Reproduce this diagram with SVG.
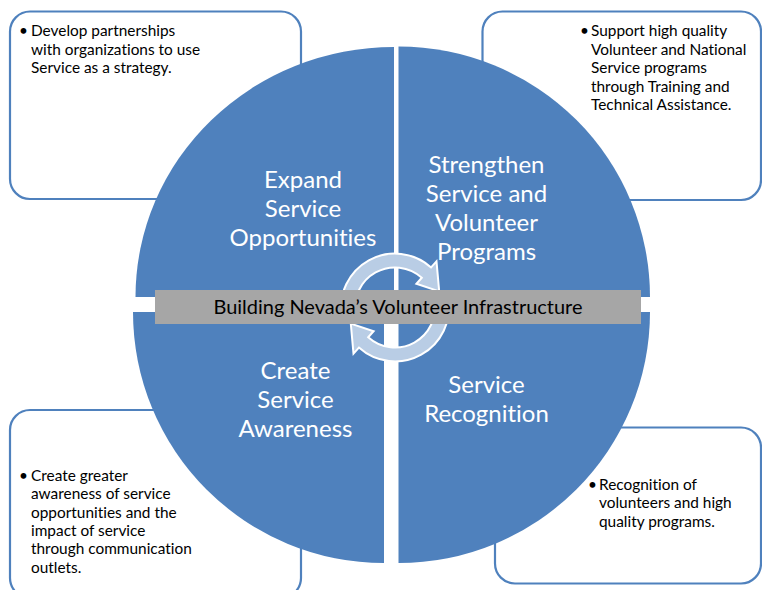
<svg xmlns="http://www.w3.org/2000/svg" width="762" height="590" viewBox="0 0 762 590">
<style>
.box{fill:#fff;stroke:#4F81BD;stroke-width:2.2}
.quad{fill:#4F81BD}
.arr{fill:#B9CDE5;stroke:#fff;stroke-width:2}
.lbl{font-family:Lato,"Open Sans",sans-serif;font-size:24px;fill:#fff;text-anchor:middle;font-variant-ligatures:none}
.bt{font-family:Lato,"Open Sans",sans-serif;font-size:15.4px;fill:#000;font-variant-ligatures:none}
.bar{fill:#A6A6A6}
.bartxt{font-family:Lato,"Open Sans",sans-serif;font-size:19px;fill:#000;text-anchor:middle}
</style>
<rect width="762" height="590" fill="#fff"/>
<g id="box-tl"><rect class="box" x="10" y="11.5" width="291" height="187.5" rx="20"/>
<text class="bt"><tspan x="19" y="36">•</tspan><tspan x="31" y="36">Develop partnerships</tspan><tspan x="31" y="54.5">with organizations to use</tspan><tspan x="31" y="73">Service as a strategy.</tspan></text></g>
<g id="box-tr"><rect class="box" x="482.5" y="11.5" width="278.5" height="188.5" rx="20"/>
<text class="bt"><tspan x="580" y="36">•</tspan><tspan x="591" y="36">Support high quality</tspan><tspan x="591" y="54.5">Volunteer and National</tspan><tspan x="591" y="73">Service programs</tspan><tspan x="591" y="91.5">through Training and</tspan><tspan x="591" y="110">Technical Assistance.</tspan></text></g>
<g id="box-bl"><rect class="box" x="10" y="410" width="291" height="188" rx="20"/>
<text class="bt"><tspan x="19" y="481">•</tspan><tspan x="31" y="481">Create greater</tspan><tspan x="31" y="499.3">awareness of service</tspan><tspan x="31" y="517.7">opportunities and the</tspan><tspan x="31" y="536">impact of service</tspan><tspan x="31" y="554.3">through communication</tspan><tspan x="31" y="572.5">outlets.</tspan></text></g>
<g id="box-br"><rect class="box" x="495" y="427.5" width="266" height="156" rx="20"/>
<text class="bt"><tspan x="588" y="490">•</tspan><tspan x="599" y="490">Recognition of</tspan><tspan x="599" y="508.3">volunteers and high</tspan><tspan x="599" y="526.7">quality programs.</tspan></text></g>
<g id="q-tl"><path class="quad" d="M394,297 L135.5,297 A258.5,250 0 0 1 394,47 Z"/>
<text class="lbl"><tspan x="303" y="188">Expand</tspan><tspan x="303" y="217">Service</tspan><tspan x="303" y="246">Opportunities</tspan></text></g>
<g id="q-tr"><path class="quad" d="M398.5,297 L398.5,46.5 A251.5,250.5 0 0 1 650,297 Z"/>
<text class="lbl"><tspan x="486.5" y="173">Strengthen</tspan><tspan x="486.5" y="202">Service and</tspan><tspan x="486.5" y="231">Volunteer</tspan><tspan x="486.5" y="260">Programs</tspan></text></g>
<g id="q-bl"><path class="quad" d="M384,312 L384,563 A251,251 0 0 1 133,312 Z"/>
<text class="lbl"><tspan x="295.5" y="379">Create</tspan><tspan x="295.5" y="408">Service</tspan><tspan x="295.5" y="437">Awareness</tspan></text></g>
<g id="q-br"><path class="quad" d="M398.5,312 L650,312 A251.5,251 0 0 1 398.5,563 Z"/>
<text class="lbl"><tspan x="486.5" y="393">Service</tspan><tspan x="486.5" y="422">Recognition</tspan></text></g>
<g id="connectors">
<path class="arr" d="M341.8,316.9 A54,54 0 0 1 431.1,267.4 L436.5,261.4 L439.2,291.4 L416.4,283.7 L421.8,277.8 A40,40 0 0 0 355.6,314.4 Z"/>
<path class="arr" transform="rotate(180 395 307.5)" d="M341.8,316.9 A54,54 0 0 1 431.1,267.4 L436.5,261.4 L439.2,291.4 L416.4,283.7 L421.8,277.8 A40,40 0 0 0 355.6,314.4 Z"/>
</g>
<g id="title-bar"><rect class="bar" x="155" y="290" width="486" height="34"/>
<text class="bartxt" x="398" y="313.5" textLength="369" lengthAdjust="spacingAndGlyphs">Building Nevada’s Volunteer Infrastructure</text></g>
</svg>
